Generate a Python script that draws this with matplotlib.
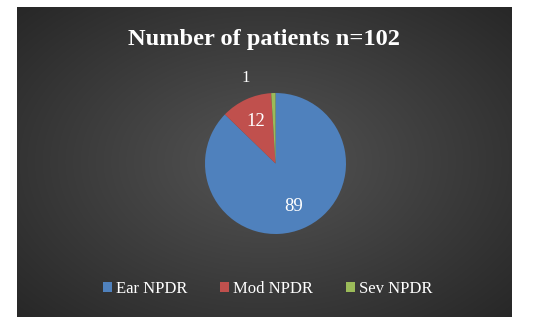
import numpy as np
import matplotlib
matplotlib.use("Agg")
import matplotlib.pyplot as plt
from matplotlib.patches import Patch

# data
categories = ["Ear NPDR", "Mod NPDR", "Sev NPDR"]
counts = [89, 12, 1]
colors = ["#4F81BD", "#C0504D", "#9BBB59"]
title = "Number of patients n=102"

W, H = 545, 328
fig = plt.figure(figsize=(W / 100, H / 100), dpi=100)
fig.patch.set_facecolor("white")

# dark panel with radial gradient
bg = fig.add_axes([17 / W, 1 - 317 / H, 495 / W, 310 / H])
yy, xx = np.mgrid[-1:1:300j, -1:1:480j]
r = np.sqrt((xx * 1.0) ** 2 + (yy * 0.95) ** 2) / np.sqrt(2)
shade = 0.33 - 0.18 * np.clip(r, 0, 1)
bg.imshow(np.dstack([shade, shade, shade]), aspect="auto", extent=[0, 1, 0, 1])
bg.axis("off")

fig.text(264 / W, 1 - 39 / H, title, ha="center", va="center", fontsize=17.6,
         fontweight="bold", family="Liberation Serif", color="white")

# pie
ax = fig.add_axes([205 / W, 94 / H, 141 / W, 141 / H])
wedges, _ = ax.pie(counts, colors=colors, startangle=90, counterclock=False,
                   radius=1, wedgeprops=dict(linewidth=0))
ax.set_xlim(-1, 1)
ax.set_ylim(-1, 1)
ax.set_aspect("equal")
ax.axis("off")

# data labels
for i, (w, v) in enumerate(zip(wedges, counts)):
    ang = np.deg2rad((w.theta1 + w.theta2) / 2)
    if v < 5:
        x, y = -0.43, 1.21
        fs = 12
    else:
        x, y = 0.66 * np.cos(ang), 0.66 * np.sin(ang)
        fs = 13.5
    ax.text(x, y, str(v), ha="center", va="center", fontsize=fs,
            family="Liberation Serif", color="white", clip_on=False)

handles = [Patch(facecolor=c, edgecolor="none") for c in colors]
leg = fig.legend(handles, categories, loc="center", ncol=3,
                 bbox_to_anchor=(267.5 / W, 1 - 289 / H), frameon=False,
                 prop=dict(family="Liberation Serif", size=12),
                 handlelength=0.55, handleheight=0.55, handletextpad=0.2,
                 columnspacing=2.0)
for t in leg.get_texts():
    t.set_color("white")

fig.savefig("out.png", dpi=100)
